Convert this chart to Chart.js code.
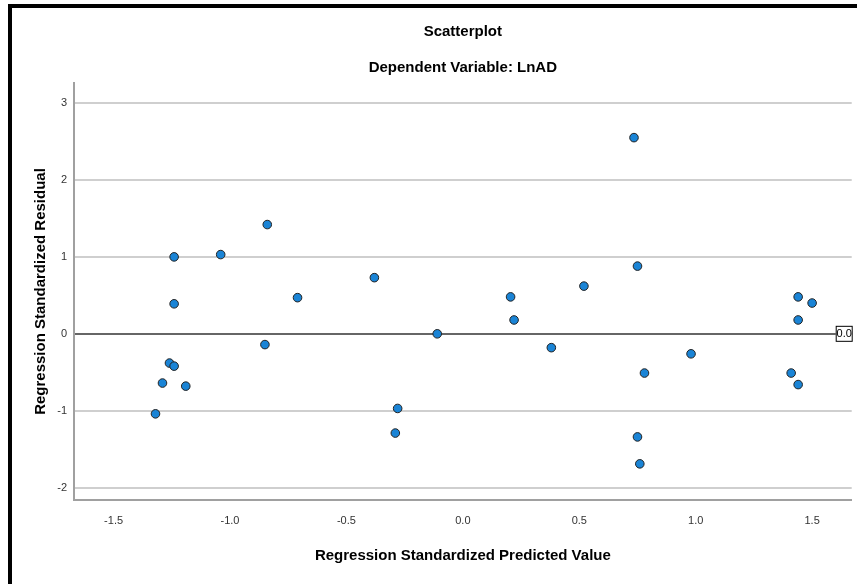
<!DOCTYPE html>
<html>
<head>
<meta charset="utf-8">
<script src="https://cdn.jsdelivr.net/npm/chart.js@4.4.1/dist/chart.umd.min.js"></script>
<style>
  html, body { margin: 0; padding: 0; background: #fff; }
  #wrap { position: relative; width: 857px; height: 584px; overflow: hidden; }
  #frame {
    position: absolute; left: 8px; top: 4px; width: 900px; height: 700px;
    border-left: 4px solid #000; border-top: 4px solid #000; pointer-events: none;
  }
</style>
</head>
<body>
<div id="wrap">
  <canvas id="residChart" width="857" height="584"></canvas>
  <div id="frame"></div>
</div>
<script>
// Regression standardized predicted value (x) vs standardized residual (y)
const predicted = [
  -1.24, -1.04, -0.84, -1.24, -0.71, -0.38, -0.85, -1.26, -1.24, -1.29,
  -1.19, -1.32, -0.28, -0.29, -0.11, 0.205, 0.22, 0.38, 0.52, 0.735,
  0.75, 0.75, 0.76, 0.78, 0.98, 1.41, 1.44, 1.44, 1.50, 1.44
];
const residual = [
  1.00, 1.03, 1.42, 0.39, 0.47, 0.73, -0.14, -0.38, -0.42, -0.64,
  -0.68, -1.04, -0.97, -1.29, 0.00, 0.48, 0.18, -0.18, 0.62, 2.55,
  0.88, -1.34, -1.69, -0.51, -0.26, -0.51, -0.66, 0.48, 0.40, 0.18
];
const xTicks = [-1.5, -1.0, -0.5, 0.0, 0.5, 1.0, 1.5];
const yTicks = [-2, -1, 0, 1, 2, 3];

const points = predicted.map((x, i) => ({ x: x, y: residual[i] }));

// draws the little "0.0" box at the end of the zero reference line
const zeroLabel = {
  id: 'zeroLabel',
  afterDatasetsDraw(chart) {
    const ctx = chart.ctx;
    const y = chart.scales.y.getPixelForValue(0);
    const right = chart.chartArea.right + 1;
    ctx.save();
    ctx.fillStyle = '#fff';
    ctx.fillRect(right - 17, y - 8, 16, 16);
    ctx.strokeStyle = '#000';
    ctx.lineWidth = 1;
    ctx.strokeRect(right - 16.5, y - 7.5, 16, 15);
    ctx.fillStyle = '#000';
    ctx.font = '11px "Liberation Sans", Arial, sans-serif';
    ctx.textAlign = 'center';
    ctx.textBaseline = 'middle';
    ctx.fillText('0.0', right - 8.5, y + 0.5);
    ctx.restore();
  }
};

const ctx = document.getElementById('residChart').getContext('2d');
const chart = new Chart(ctx, {
  type: 'scatter',
  data: {
    datasets: [{
      data: points,
      backgroundColor: '#1a84d6',
      borderColor: '#222',
      borderWidth: 1,
      pointRadius: 4.3,
      pointHoverRadius: 4.3
    }]
  },
  options: {
    responsive: false,
    animation: false,
    layout: { padding: { top: 0, left: 0, right: 2, bottom: 0 } },
    plugins: {
      legend: { display: false },
      tooltip: { enabled: false },
      title: {
        display: true,
        fullSize: false,
        text: 'Scatterplot',
        color: '#000',
        font: { family: '"Liberation Sans", Arial, sans-serif', size: 15, weight: 'bold', lineHeight: 1.2 },
        padding: { top: 23, bottom: 18 }
      },
      subtitle: {
        display: true,
        fullSize: false,
        text: 'Dependent Variable: LnAD',
        color: '#000',
        font: { family: '"Liberation Sans", Arial, sans-serif', size: 15, weight: 'bold', lineHeight: 1.2 },
        padding: { top: 0, bottom: 6 }
      }
    },
    scales: {
      x: {
        type: 'linear',
        min: -1.67,
        max: 1.67,
        afterFit: (scale) => { scale.height = 84; },
        afterBuildTicks: (scale) => { scale.ticks = xTicks.map(v => ({ value: v })); },
        ticks: {
          color: '#333',
          padding: 14,
          font: { family: '"Liberation Sans", Arial, sans-serif', size: 11 },
          callback: (v) => Number(v).toFixed(1)
        },
        grid: { display: false, drawTicks: false },
        border: { display: true, color: '#a0a0a0', width: 2 },
        title: {
          display: true,
          text: 'Regression Standardized Predicted Value',
          color: '#000',
          font: { family: '"Liberation Sans", Arial, sans-serif', size: 15, weight: 'bold', lineHeight: 1.2 },
          padding: { top: 0, bottom: 19.6 }
        }
      },
      y: {
        type: 'linear',
        min: -2.16,
        max: 3.26,
        afterFit: (scale) => { scale.width = 74; },
        afterBuildTicks: (scale) => { scale.ticks = yTicks.map(v => ({ value: v })); },
        ticks: {
          color: '#333',
          padding: 7,
          font: { family: '"Liberation Sans", Arial, sans-serif', size: 11 },
          callback: (v) => String(v)
        },
        grid: {
          drawTicks: false,
          color: (c) => (c.tick && c.tick.value === 0 ? '#666' : '#cfcfcf'),
          lineWidth: 2
        },
        border: { display: true, color: '#a0a0a0', width: 2 },
        title: {
          display: true,
          text: 'Regression Standardized Residual',
          color: '#000',
          font: { family: '"Liberation Sans", Arial, sans-serif', size: 15, weight: 'bold', lineHeight: 1.2 },
          padding: { top: 31.6, bottom: 0 }
        }
      }
    }
  },
  plugins: [zeroLabel]
});
</script>
</body>
</html>
